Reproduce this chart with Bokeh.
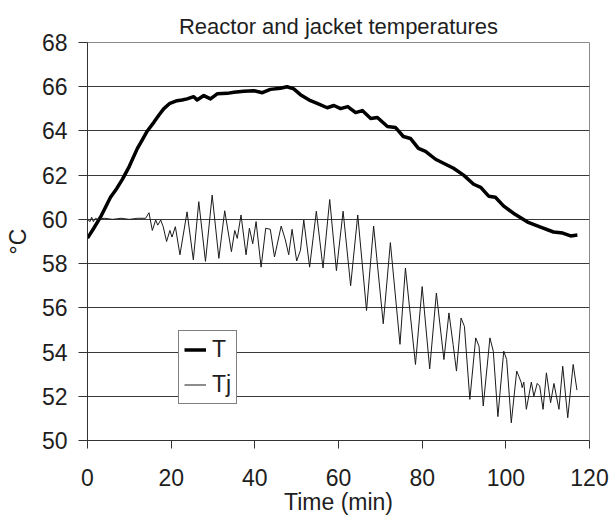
from bokeh.plotting import figure
from bokeh.models import Legend, LegendItem, Range1d, FixedTicker
from bokeh.embed import file_html
from bokeh.resources import INLINE

# Reactor temperature T
t_T = [0, 1.5, 3.1, 4.3, 5.5, 7.0, 8.3, 10.0, 11.9, 13.1, 14.3, 15.9, 17.0, 18.2, 19.7,
       21.4, 22.6, 23.8, 25.4, 26.2, 27.8, 29.4, 31.0, 33.4, 35.0, 37.4, 39.8, 41.8, 43.7, 46.1,
       47.7, 49.3, 50.9, 53.3, 54.9, 57.3, 58.9, 60.5, 62.2, 64.1, 65.7, 67.7, 69.3, 71.7, 73.6,
       75.5, 77.2, 79.1, 80.8, 83.2, 85.1, 87.5, 89.9, 92.3, 94.0, 95.9, 97.5, 99.5, 101.8, 105.2,
       108.3, 111.4, 113.6, 115.5, 117.1]
temp_T = [59.15, 59.6, 60.1, 60.55, 61.0, 61.4, 61.8, 62.4, 63.2, 63.6, 64.0, 64.4, 64.7, 65.0, 65.25,
          65.37, 65.4, 65.45, 65.55, 65.4, 65.6, 65.45, 65.68, 65.7, 65.75, 65.8, 65.82, 65.73, 65.88, 65.93,
          66.0, 65.9, 65.64, 65.37, 65.25, 65.05, 65.15, 65.01, 65.1, 64.83, 64.92, 64.56, 64.61, 64.2, 64.16,
          63.75, 63.66, 63.21, 63.08, 62.72, 62.54, 62.31, 62.0, 61.59, 61.45, 61.05, 61.0, 60.6, 60.28, 59.88,
          59.65, 59.43, 59.38, 59.25, 59.29]

# Jacket temperature Tj
t_Tj = [0, 0.6, 1.0, 1.4, 1.9, 2.5, 4.0, 6.0, 8.0, 10.0, 12.0, 13.9,
        14.7, 15.5, 16.3, 16.8, 17.5, 18.1, 18.9, 19.7, 20.2, 21.0, 22.1, 23.8, 25.3, 26.6,
        28.2, 29.8, 31.4, 32.8, 34.4, 35.2, 35.8, 36.7, 37.9, 38.7, 39.5, 40.3, 41.5, 42.6,
        43.7, 44.7, 46.3, 47.3, 48.1, 48.9, 50.0, 50.9, 51.7, 53.1, 54.7, 56.3, 57.9, 59.5,
        61.1, 62.9, 64.6, 66.7, 68.4, 70.7, 72.4, 74.7, 76.0, 78.4, 80.0, 81.8, 83.4, 85.2,
        86.4, 87.4, 88.2, 89.3, 90.1, 91.4, 92.8, 93.6, 94.6, 96.2, 97.0, 98.1, 99.5, 100.2,
        101.3, 102.6, 103.1, 103.7, 103.9, 104.3, 104.9, 106.1, 106.7, 107.5, 108.1, 108.9,
        109.7, 110.7, 111.5, 112.7, 113.6, 114.8, 116.1, 117.0]
temp_Tj = [60.0, 59.9, 60.1, 59.9, 60.05, 60.0, 60.05, 60.0, 60.05, 60.0, 60.05, 60.05,
           60.3, 59.5, 59.97, 59.74, 59.97, 59.67, 59.0, 59.5, 59.2, 59.67, 58.4, 60.34, 58.17, 60.8,
           58.1, 61.1, 58.24, 60.39, 58.54, 59.5, 59.14, 60.2, 58.4, 59.6, 58.9, 59.9, 57.84, 59.6,
           59.55, 58.3, 59.7, 59.07, 58.4, 59.55, 58.12, 58.6, 59.97, 57.84, 60.37, 57.8, 60.9, 57.68,
           60.37, 57.0, 60.2, 55.88, 59.7, 55.28, 58.95, 54.35, 57.8, 53.44, 56.96, 53.24, 56.67, 53.66,
           55.77, 54.34, 53.14, 55.54, 55.16, 51.86, 54.64, 54.26, 51.56, 54.64, 54.04, 51.08, 54.04, 53.66,
           50.8, 53.14, 52.91, 52.61, 52.39, 52.64, 51.41, 52.64, 52.0, 52.58, 52.46, 51.41,
           53.06, 51.71, 52.58, 51.41, 53.36, 51.03, 53.44, 52.28]

x_ticks = [0, 20, 40, 60, 80, 100, 120]
y_ticks = [50, 52, 54, 56, 58, 60, 62, 64, 66, 68]

FONT = "Liberation Sans"
TXT = "#1e1e1e"

p = figure(width=612, height=517, output_backend="svg", toolbar_location=None,
           x_range=Range1d(0, 120), y_range=Range1d(50, 68),
           min_border_left=87, min_border_right=23, min_border_top=42, min_border_bottom=75)

p.title.text = "Reactor and jacket temperatures"
p.title.align = "center"
p.title.text_font = FONT
p.title.text_font_size = "22px"
p.title.text_font_style = "normal"
p.title.text_color = TXT
p.title.standoff = 7

p.background_fill_color = "white"
p.border_fill_color = "white"
p.outline_line_color = "#8a8a8a"
p.outline_line_width = 1

p.xgrid.visible = False
p.ygrid.ticker = FixedTicker(ticks=y_ticks)
p.ygrid.grid_line_color = "#3a3a3a"
p.ygrid.grid_line_width = 1

for ax in (p.xaxis[0], p.yaxis[0]):
    ax.axis_line_color = "#333333"
    ax.major_tick_line_color = "#333333"
    ax.minor_tick_line_color = None
    ax.major_tick_in = 0
    ax.major_label_text_font = FONT
    ax.major_label_text_font_size = "23px"
    ax.major_label_text_color = TXT
    ax.axis_label_text_font = FONT
    ax.axis_label_text_font_size = "23px"
    ax.axis_label_text_font_style = "normal"
    ax.axis_label_text_color = TXT

p.xaxis.ticker = FixedTicker(ticks=x_ticks)
p.yaxis.ticker = FixedTicker(ticks=y_ticks)
p.xaxis.major_tick_out = 8
p.xaxis.major_label_standoff = 20
p.xaxis.axis_label = "Time (min)"
p.xaxis.axis_label_standoff = 0
p.yaxis.major_tick_out = 9
p.yaxis.major_label_standoff = 11
p.yaxis.axis_label = "°C"
p.yaxis.axis_label_standoff = 8

r_T = p.line(t_T, temp_T, line_width=3.5, line_color="black", line_join="round")
r_Tj = p.line(t_Tj, temp_Tj, line_width=1.0, line_color="#1a1a1a", line_join="round")

legend = Legend(items=[LegendItem(label="T", renderers=[r_T]),
                       LegendItem(label="Tj", renderers=[r_Tj])],
                location=(91, 36), margin=0, padding=5, spacing=8,
                glyph_width=22, glyph_height=25, label_height=25, label_width=19,
                label_standoff=6,
                label_text_font=FONT, label_text_font_size="23px", label_text_color=TXT,
                border_line_color="black", border_line_width=1,
                background_fill_color="white", background_fill_alpha=1.0)
p.add_layout(legend, "center")

open("out.html", "w").write(file_html(p, INLINE))
